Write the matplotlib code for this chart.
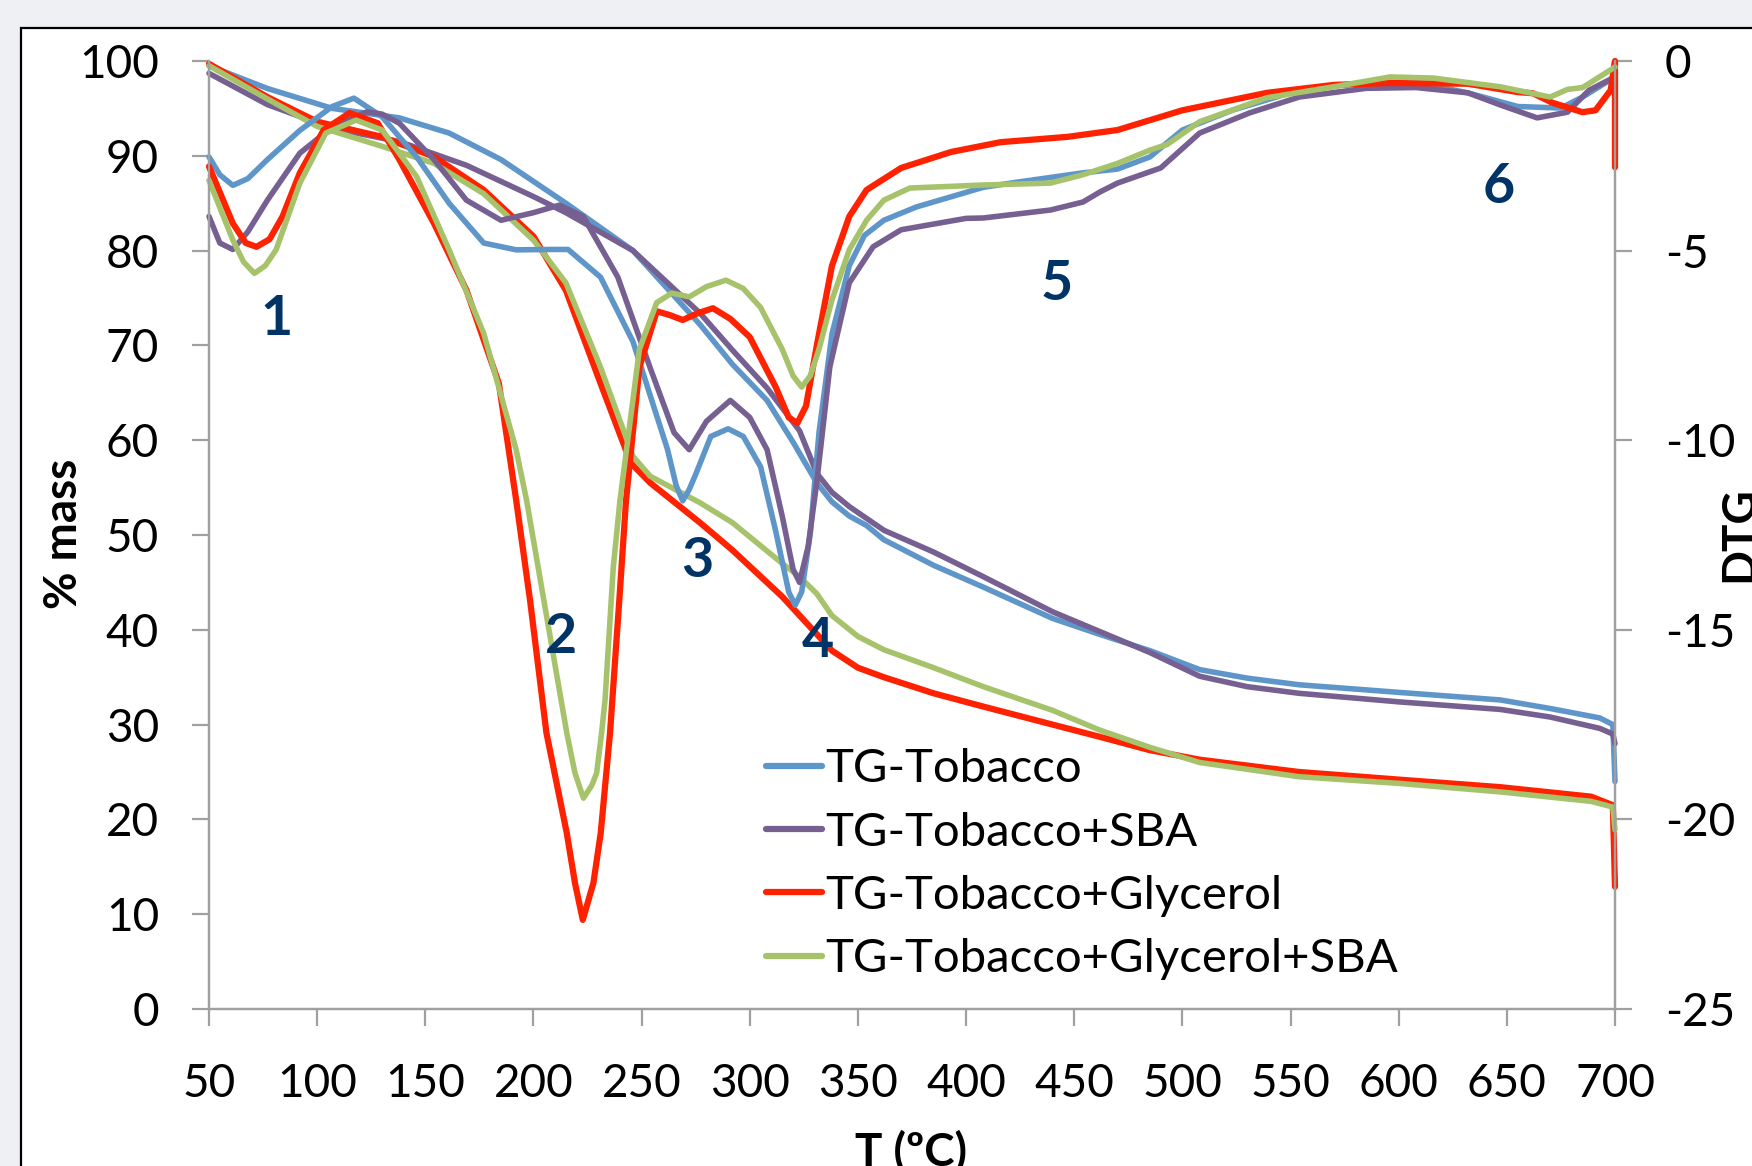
import matplotlib
matplotlib.use("Agg")
import matplotlib.pyplot as plt
import matplotlib.patches as patches

plt.rcParams['font.family'] = ['Lato', 'DejaVu Sans']
plt.rcParams['axes.unicode_minus'] = False

# TG curves, % mass (left axis)
t_tg_tob = [50, 77, 107, 138, 161, 185, 215, 246, 277, 292, 308, 320, 331, 338, 346, 354, 362, 385,
            408, 440, 462, 485, 508, 530, 554, 600, 647, 670, 693, 699, 700]
tg_tob = [99.5, 97.1, 95.0, 94.0, 92.4, 89.6, 85.0, 80.0, 72.2, 68.0, 64.2, 59.8, 55.5, 53.5, 52.0, 51.0,
          49.5, 46.8, 44.5, 41.2, 39.5, 37.8, 35.8, 34.9, 34.2, 33.4, 32.6, 31.7, 30.7, 30.0, 24.0]

t_tg_sba = [50, 77, 107, 138, 169, 200, 215, 246, 277, 292, 308, 323, 331, 338, 346, 362, 385, 408,
            440, 462, 485, 508, 530, 554, 600, 647, 670, 693, 699, 700]
tg_sba = [98.7, 95.4, 92.9, 91.5, 89.0, 85.7, 84.0, 80.0, 73.4, 69.5, 65.5, 61.0, 56.5, 54.5, 53.0, 50.5,
          48.2, 45.6, 41.9, 39.8, 37.6, 35.1, 34.0, 33.3, 32.4, 31.6, 30.8, 29.6, 29.0, 28.0]

t_tg_gly = [50, 77, 100, 130, 154, 177, 200, 215, 231, 245, 254, 277, 292, 315, 338, 350, 362, 385, 408,
            440, 462, 485, 508, 554, 600, 647, 689, 699, 700]
tg_gly = [99.7, 96.2, 93.6, 92.0, 89.9, 86.4, 81.5, 75.8, 66.0, 57.6, 55.5, 51.3, 48.4, 43.5, 37.8, 36.0,
          35.0, 33.3, 31.9, 30.0, 28.7, 27.3, 26.3, 25.0, 24.2, 23.4, 22.4, 21.5, 12.9]

t_tg_gly_sba = [50, 77, 100, 130, 154, 177, 200, 215, 231, 246, 254, 277, 292, 315, 323, 331, 338, 350,
                362, 385, 408, 440, 462, 485, 508, 554, 600, 647, 689, 699, 700]
tg_gly_sba = [99.5, 96.0, 93.1, 91.0, 89.2, 86.0, 81.1, 76.6, 67.7, 58.3, 56.2, 53.4, 51.3, 47.0, 45.6,
              43.8, 41.5, 39.3, 37.9, 36.0, 34.0, 31.5, 29.4, 27.6, 26.0, 24.5, 23.8, 22.9, 21.9, 21.3, 18.9]

# DTG curves (right axis)
t_dtg_tob = [50, 55, 61, 68, 77, 92, 107, 117, 130, 146, 161, 177, 192, 208, 216, 231, 246, 262, 266, 269,
             272, 275, 282, 290, 297, 305, 312, 318, 321, 324, 328, 332, 338, 346, 353, 362, 377, 408,
             423, 454, 470, 485, 500, 523, 554, 585, 608, 632, 655, 675, 685, 700]
dtg_tob = [-2.53, -3.0, -3.28, -3.1, -2.6, -1.83, -1.2, -0.98, -1.47, -2.53, -3.75, -4.8, -4.98, -4.97,
           -4.97, -5.7, -7.4, -10.25, -11.2, -11.6, -11.3, -10.9, -9.9, -9.7, -9.9, -10.7, -12.4, -14.0,
           -14.35, -14.0, -12.45, -9.8, -7.2, -5.4, -4.6, -4.2, -3.85, -3.33, -3.2, -2.95, -2.85, -2.53,
           -1.82, -1.3, -0.77, -0.56, -0.56, -0.84, -1.2, -1.24, -0.95, -0.42]

t_dtg_sba = [50, 55, 61, 68, 77, 92, 107, 123, 130, 138, 154, 169, 185, 200, 212, 223, 239, 254, 265,
             272, 280, 291, 300, 308, 315, 320, 323, 327, 331, 337, 346, 357, 370, 377, 400, 408, 439,
             454, 462, 470, 490, 508, 531, 554, 585, 608, 632, 647, 664, 678, 688, 700]
dtg_sba = [-4.1, -4.8, -4.97, -4.5, -3.67, -2.43, -1.74, -1.34, -1.4, -1.64, -2.6, -3.67, -4.2, -4.0,
           -3.8, -4.1, -5.7, -8.1, -9.8, -10.25, -9.5, -8.95, -9.4, -10.25, -12.0, -13.4, -13.75, -12.8,
           -11.1, -8.07, -5.85, -4.9, -4.45, -4.38, -4.15, -4.14, -3.93, -3.72, -3.45, -3.22, -2.82, -1.9,
           -1.37, -0.95, -0.72, -0.7, -0.84, -1.16, -1.5, -1.35, -0.77, -0.42]

t_dtg_gly = [50, 61, 67, 72, 78, 84, 92, 103, 115, 128, 138, 154, 169, 184, 192, 198.4, 206, 215.4, 219.2,
             222.8, 227.7, 231.1, 235.4, 239.7, 242.8, 249, 257, 263, 269, 276, 283, 291, 300, 312, 318,
             322, 326, 331, 338, 346, 354, 370, 393, 416, 447, 470, 485, 500, 539, 570, 596, 632, 655,
             662, 671, 685, 691, 698, 700, 700]
dtg_gly = [-2.78, -4.28, -4.8, -4.9, -4.7, -4.1, -2.95, -1.82, -1.37, -1.64, -2.6, -4.28, -6.04, -8.5,
           -11.58, -14.21, -17.72, -20.36, -21.68, -22.65, -21.68, -20.36, -17.72, -14.21, -11.58, -8.07,
           -6.6, -6.7, -6.83, -6.65, -6.52, -6.8, -7.28, -8.6, -9.4, -9.55, -9.1, -7.5, -5.4, -4.1, -3.4,
           -2.82, -2.4, -2.14, -2.0, -1.82, -1.56, -1.3, -0.84, -0.63, -0.58, -0.6, -0.82, -0.85, -1.1,
           -1.35, -1.3, -0.77, 0.0, -2.8]

t_dtg_gly_sba = [50, 61, 66, 71, 76, 81, 92, 104, 118, 130, 146, 161, 177, 192, 196.8, 206.1, 215.4,
                 219.2, 223.1, 227, 229.2, 231.5, 233.1, 236.9, 240, 249, 257, 264, 272, 280, 289, 297,
                 305, 315, 320, 324, 328, 332, 338, 346, 354, 362, 374, 408, 439, 454, 470, 485, 493, 508,
                 539, 570, 596, 616, 647, 670, 678, 685, 700]
dtg_gly_sba = [-3.15, -4.72, -5.3, -5.6, -5.4, -4.98, -3.22, -1.9, -1.56, -1.82, -3.05, -4.98, -7.18,
               -10.25, -11.58, -14.65, -17.72, -18.78, -19.44, -19.1, -18.78, -17.72, -16.85, -13.35,
               -11.58, -7.6, -6.37, -6.12, -6.22, -5.95, -5.78, -6.0, -6.5, -7.6, -8.3, -8.6, -8.3, -7.6,
               -6.3, -4.98, -4.2, -3.67, -3.35, -3.27, -3.22, -3.0, -2.7, -2.35, -2.2, -1.6, -0.97, -0.68,
               -0.42, -0.45, -0.68, -0.95, -0.75, -0.7, -0.16]

labels = ["TG-Tobacco", "TG-Tobacco+SBA", "TG-Tobacco+Glycerol", "TG-Tobacco+Glycerol+SBA"]
colors = ["#5f96c9", "#765f91", "#ff2200", "#a6c36c"]

# peak numbers: x (ºC), baseline in % mass
peak_names = ["1", "2", "3", "4", "5", "6"]
peak_t = [81, 212.7, 275.8, 331.5, 442, 646.4]
peak_y = [71.1, 37.6, 45.6, 37.1, 74.8, 85.0]

x_ticks = list(range(50, 701, 50))
y_ticks = list(range(0, 101, 10))
y2_ticks = list(range(-25, 1, 5))

W, H = 1752, 1166
fig = plt.figure(figsize=(W / 100, H / 100), dpi=100, facecolor="#eef0f4")

# white chart area with black border (runs off the right and bottom)
fig.patches.append(patches.Rectangle((21 / W, -0.05), 1.05, 1 - 28 / H + 0.05, transform=fig.transFigure,
                                     facecolor="white", edgecolor="black", linewidth=1.6, zorder=-10))

ax = fig.add_axes([209 / W, 1 - 1009 / H, (1615 - 209) / W, (1009 - 61) / H])
ax2 = ax.twinx()
ax.patch.set_visible(False)

tg_t = [t_tg_tob, t_tg_sba, t_tg_gly, t_tg_gly_sba]
tg_v = [tg_tob, tg_sba, tg_gly, tg_gly_sba]
dtg_t = [t_dtg_tob, t_dtg_sba, t_dtg_gly, t_dtg_gly_sba]
dtg_v = [dtg_tob, dtg_sba, dtg_gly, dtg_gly_sba]

handles = []
for i in range(4):
    lw = 4.5 if i == 2 else 4.0
    h, = ax.plot(tg_t[i], tg_v[i], color=colors[i], lw=lw, label=labels[i],
                 solid_joinstyle='round', solid_capstyle='round', clip_on=False)
    handles.append(h)
    ax2.plot(dtg_t[i], dtg_v[i], color=colors[i], lw=lw, solid_joinstyle='round',
             solid_capstyle='round', clip_on=False)

ax.set_xlim(50, 700)
ax.set_ylim(0, 100)
ax2.set_ylim(-25, 0)
ax.set_xticks(x_ticks)
ax.set_yticks(y_ticks)
ax2.set_yticks(y2_ticks)

grey = "#a0a0a0"
for a in (ax, ax2):
    a.spines['top'].set_visible(False)
    for s in ('left', 'right', 'bottom'):
        a.spines[s].set_color(grey)
        a.spines[s].set_linewidth(1.6)
ax.tick_params(axis='both', direction='out', length=12, width=1.6, color=grey,
               labelsize=33, labelcolor='black')
ax.tick_params(axis='x', pad=27)
ax.tick_params(axis='y', pad=24)
ax2.tick_params(axis='y', direction='out', length=12, width=1.6, color=grey,
                labelsize=33, labelcolor='black', pad=24)

for name, tx, ty in zip(peak_names, peak_t, peak_y):
    ax2.text(tx, ty, name, transform=ax.transData, ha='center', va='baseline',
             fontsize=40, fontweight='bold', color='#003366')

leg = ax2.legend(handles, labels, loc='upper left', bbox_to_anchor=(0.396, 0.275), frameon=False,
                 fontsize=34, handlelength=1.2, handletextpad=0.06, labelspacing=0.45,
                 borderpad=0, borderaxespad=0)
for line in leg.get_lines():
    line.set_linewidth(4.5)

fig.text(64 / W, 1 - 534 / H, "% mass", rotation=90, ha='center', va='center',
         fontsize=33, fontweight='bold')
fig.text(911 / W, 1 - 1130 / H, "T (ºC)", ha='center', va='top', fontsize=33, fontweight='bold')
fig.text(1718 / W, 1 - 534 / H, "DTG", rotation=90, ha='left', va='center',
         fontsize=33, fontweight='bold')

fig.savefig("out.png", dpi=100, facecolor=fig.get_facecolor())
